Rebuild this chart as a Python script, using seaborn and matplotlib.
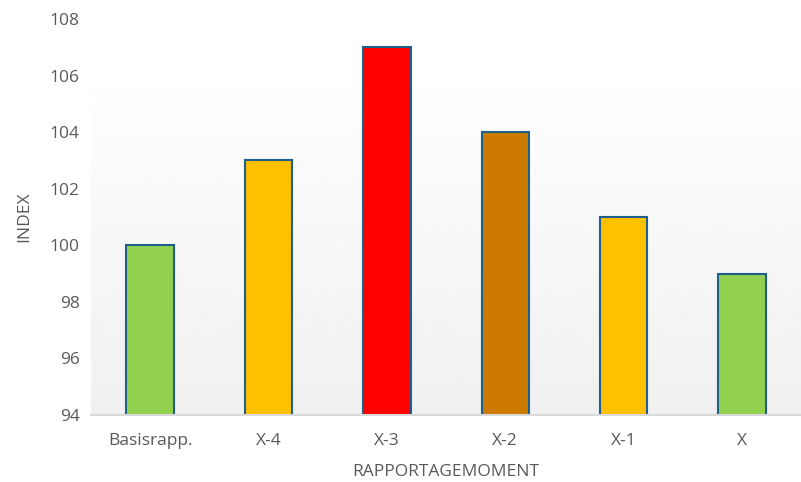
import numpy as np
import pandas as pd
import matplotlib.pyplot as plt
import seaborn as sns

# Data
categories = ["Basisrapp.", "X-4", "X-3", "X-2", "X-1", "X"]
index_values = [100, 103, 107, 104, 101, 99]
bar_colors = ["#92D050", "#FFC000", "#FF0000", "#CC7A00", "#FFC000", "#92D050"]
y_ticks = [94, 96, 98, 100, 102, 104, 106, 108]


def generate_plot():
    sns.set_style("white")
    plt.rcParams['font.family'] = ['Open Sans', 'DejaVu Sans']

    df = pd.DataFrame({"moment": categories, "index": index_values})

    fig = plt.figure(figsize=(8.01, 4.82), dpi=100)
    ax = fig.add_axes([91 / 801, 1 - 415 / 482, 710 / 801, (415 - 19) / 482])

    # Achtergrond met verloop (wit -> lichtgrijs)
    grad = np.linspace(1.0, 0.94, 256).reshape(-1, 1)
    ax.imshow(grad, cmap="gray", vmin=0, vmax=1, aspect="auto",
              extent=(0, 1, 0, 0.88), transform=ax.transAxes, zorder=0)

    sns.barplot(data=df, x="moment", y="index", hue="moment",
                palette=bar_colors, saturation=1, legend=False, width=0.4,
                edgecolor="#1F5F8B", linewidth=1.5, ax=ax, zorder=2)

    ax.set_ylim(94, 108)
    ax.set_xlim(-0.5, len(categories) - 0.5)
    ax.set_yticks(y_ticks)
    ax.tick_params(axis="both", length=0, labelsize=12.5, colors="#595959")
    ax.tick_params(axis="x", pad=13)
    ax.tick_params(axis="y", pad=8)

    for side in ["top", "right", "left"]:
        ax.spines[side].set_visible(False)
    ax.spines["bottom"].set_color("#D9D9D9")
    ax.spines["bottom"].set_linewidth(1.5)

    ax.set_xlabel("RAPPORTAGEMOMENT", fontsize=12.5, color="#595959", labelpad=11)
    ax.set_ylabel("INDEX", fontsize=12.5, color="#595959", labelpad=13)

    fig.savefig("out.png", dpi=100)
    plt.close(fig)


if __name__ == "__main__":
    generate_plot()
